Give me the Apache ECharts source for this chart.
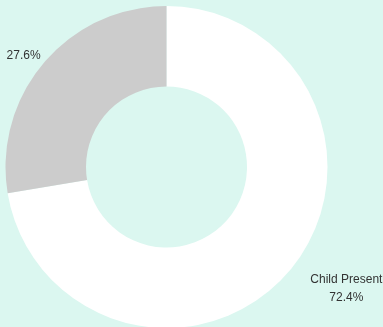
<!DOCTYPE html>
<html>
<head>
<meta charset="utf-8">
<script src="https://cdn.jsdelivr.net/npm/echarts@6/dist/echarts.min.js"></script>
<style>
  html, body { margin: 0; padding: 0; background: #dbf7f0; }
  #chart { width: 383px; height: 327px; }
</style>
</head>
<body>
<div id="chart"></div>
<script>
// Share of households by child presence
const categories = ['Child Present', 'Child Absent'];
const values = [72.4, 27.6];
const sliceColors = ['#ffffff', '#cccccc'];
const showName = [true, false];
// small nudges that push each label clear of the ring
const labelShift = [[10, 12], [8, -2]];

const chart = echarts.init(document.getElementById('chart'), null, { renderer: 'canvas' });

const data = categories.map((name, i) => ({
  name: name,
  value: values[i],
  itemStyle: { color: sliceColors[i] },
  label: { formatter: showName[i] ? '{b}\n{d}%' : '{d}%' }
}));

chart.setOption({
  backgroundColor: '#dbf7f0',
  animation: false,
  series: [{
    type: 'pie',
    center: [166.5, 167],
    radius: [80.5, 161],
    startAngle: 90,
    clockwise: true,
    avoidLabelOverlap: false,
    itemStyle: { borderWidth: 0 },
    label: {
      show: true,
      position: 'outside',
      color: '#333333',
      fontFamily: 'Liberation Sans, Arial, sans-serif',
      fontSize: 12,
      lineHeight: 18
    },
    labelLine: { show: false, length: 8, length2: 0 },
    labelLayout: function (params) {
      const r = params.labelRect;
      const s = labelShift[params.dataIndex];
      return {
        x: r.x + r.width / 2 + s[0],
        y: r.y + r.height / 2 + s[1],
        align: 'center',
        verticalAlign: 'middle'
      };
    },
    emphasis: { disabled: true },
    data: data
  }]
});
</script>
</body>
</html>
